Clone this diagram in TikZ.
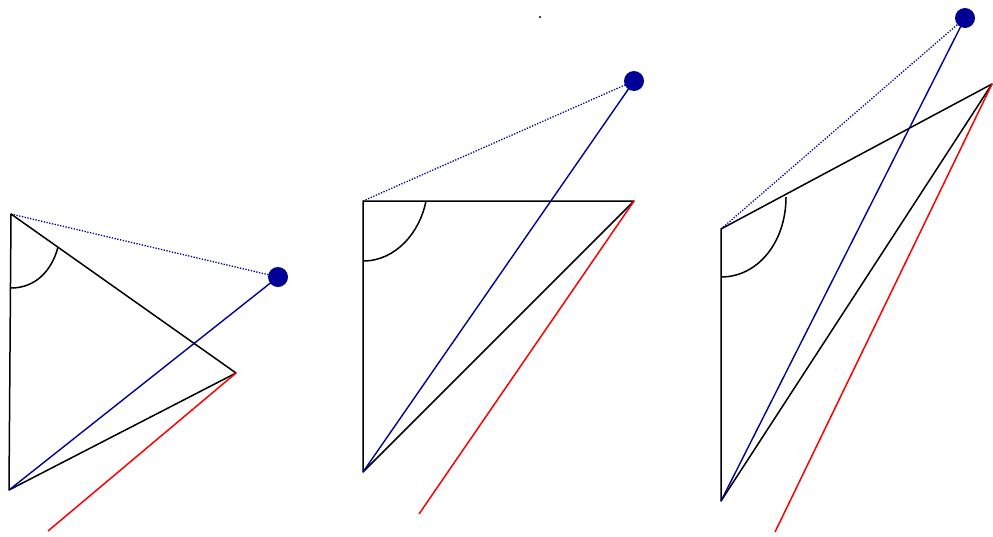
\documentclass[tikz,border=0pt]{standalone}
\definecolor{dotblue}{RGB}{0,0,150}
\begin{document}
\begin{tikzpicture}[x=1pt,y=-1pt,
  edge/.style={draw=black,line width=1.5pt,line join=round},
  redline/.style={draw=red,line width=1.5pt},
  blueline/.style={draw=dotblue,line width=1.4pt},
  sight/.style={draw=dotblue,line width=1.3pt,dash pattern=on 1.3pt off 1.5pt},
  ball/.style={circle,fill=dotblue,inner sep=0pt,minimum size=20pt},
  anglearc/.style={draw=black,line width=1.5pt}]
\useasboundingbox (0,0) rectangle (993,536);
% tiny dot at top
\fill (540,17) circle (1.1pt);
% ---- panel 1
\coordinate (t1) at (11,214);
\coordinate (b1) at (9,490);
\coordinate (r1) at (236,373);
\coordinate (e1) at (48,531);
\coordinate (d1) at (278,277);
\draw[edge] (t1) -- (b1) -- (r1) -- cycle;
\draw[anglearc] (11,288) .. controls (36,288) and (52,270) .. (58,247);
\draw[redline] (r1) -- (e1);
\draw[blueline] (b1) -- (d1);
\draw[sight] (t1) -- (d1);
\node[ball] (n1) at (d1) {};
% ---- panel 2
\coordinate (t2) at (363,201);
\coordinate (b2) at (363,472);
\coordinate (r2) at (634,201);
\coordinate (e2) at (419,514);
\coordinate (d2) at (634,81);
\draw[edge] (t2) -- (b2) -- (r2) -- cycle;
\draw[anglearc] (363,261) .. controls (396,261) and (420,232) .. (426,201);
\draw[redline] (r2) -- (e2);
\draw[blueline] (b2) -- (d2);
\draw[sight] (t2) -- (d2);
\node[ball] (n2) at (d2) {};
% ---- panel 3
\coordinate (t3) at (721,229);
\coordinate (b3) at (721,501);
\coordinate (r3) at (992,84);
\coordinate (e3) at (775,532);
\coordinate (d3) at (965,18);
\draw[edge] (t3) -- (b3) -- (r3) -- cycle;
\draw[anglearc] (721,277) .. controls (758,277) and (786,242) .. (786,197);
\draw[redline] (r3) -- (e3);
\draw[blueline] (b3) -- (d3);
\draw[sight] (t3) -- (d3);
\node[ball] (n3) at (d3) {};
\end{tikzpicture}
\end{document}
